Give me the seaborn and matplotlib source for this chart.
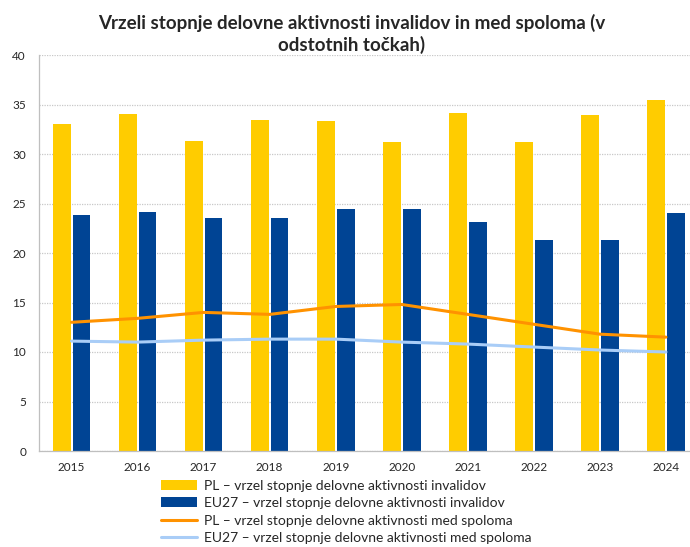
import numpy as np
import pandas as pd
import matplotlib.pyplot as plt
import seaborn as sns

# Values
years = ['2015', '2016', '2017', '2018', '2019', '2020', '2021', '2022', '2023', '2024']
pl_disability_gap = [33.0, 34.0, 31.3, 33.4, 33.3, 31.2, 34.1, 31.2, 33.9, 35.5]
eu_disability_gap = [23.8, 24.1, 23.5, 23.5, 24.4, 24.4, 23.1, 21.3, 21.3, 24.0]
pl_gender_gap = [13.0, 13.4, 14.0, 13.8, 14.6, 14.8, 13.8, 12.8, 11.8, 11.5]
eu_gender_gap = [11.1, 11.0, 11.2, 11.3, 11.3, 11.0, 10.8, 10.5, 10.2, 10.0]

lbl_pl_dis = 'PL – vrzel stopnje delovne aktivnosti invalidov'
lbl_eu_dis = 'EU27 – vrzel stopnje delovne aktivnosti invalidov'
lbl_pl_gen = 'PL – vrzel stopnje delovne aktivnosti med spoloma'
lbl_eu_gen = 'EU27 – vrzel stopnje delovne aktivnosti med spoloma'
title = 'Vrzeli stopnje delovne aktivnosti invalidov in med spoloma (v\nodstotnih točkah)'

# long-form table for the bars
bars = pd.DataFrame({
    'year': years * 2,
    'value': pl_disability_gap + eu_disability_gap,
    'series': [lbl_pl_dis] * len(years) + [lbl_eu_dis] * len(years),
})

sns.set_style('white')
plt.rcParams['font.family'] = ['Lato', 'DejaVu Sans']

fig = plt.figure(figsize=(6.9, 5.47), dpi=100)
ax = fig.add_axes([38.5 / 690, 96 / 547, 660.5 / 690, 396 / 547])

sns.barplot(data=bars, x='year', y='value', hue='series',
            palette=['#FFCC00', '#004494'], saturation=1, width=0.6, gap=0.1,
            edgecolor='none', ax=ax, legend=True)

pos = np.arange(len(years))
sns.lineplot(x=pos, y=pl_gender_gap, color='#FF9200', linewidth=2.2,
             label=lbl_pl_gen, ax=ax)
sns.lineplot(x=pos, y=eu_gender_gap, color='#A9CDF7', linewidth=2.2,
             label=lbl_eu_gen, ax=ax)

ax.set_xlim(-0.5, len(years) - 0.5)
ax.set_ylim(0, 40)
ax.set_yticks(range(0, 41, 5))
ax.set_xlabel('')
ax.set_ylabel('')

# axis styling like the spreadsheet original
ax.grid(axis='y', color='#C8C8C8', linestyle=(0, (1, 1)), linewidth=0.9)
ax.set_axisbelow(True)
for s in ['top', 'right']:
    ax.spines[s].set_visible(False)
for s in ['left', 'bottom']:
    ax.spines[s].set_color('#BFBFBF')
    ax.spines[s].set_linewidth(0.9)
ax.set_xticks(np.arange(-0.5, len(years), 1), minor=True)
ax.tick_params(axis='x', which='major', length=0, labelsize=8.5, pad=8)
ax.tick_params(axis='x', which='minor', length=5, color='#BFBFBF', direction='out')
ax.tick_params(axis='y', length=5, color='#BFBFBF', direction='out', labelsize=8.5, pad=4)

handles, labels = ax.get_legend_handles_labels()
order = [labels.index(l) for l in [lbl_pl_dis, lbl_eu_dis, lbl_pl_gen, lbl_eu_gen]]
ax.legend([handles[i] for i in order], [labels[i] for i in order],
          loc='upper left', bbox_to_anchor=(155 / 690, 1 - 474 / 547),
          bbox_transform=fig.transFigure, frameon=False, fontsize=10,
          labelspacing=0.4, handlelength=2.6, handletextpad=0.5,
          borderaxespad=0)

fig.text(0.51, 0.975, title, ha='center', va='top', fontsize=13.5,
         fontweight='bold', linespacing=1.3)

fig.savefig('out.png', dpi=100)
